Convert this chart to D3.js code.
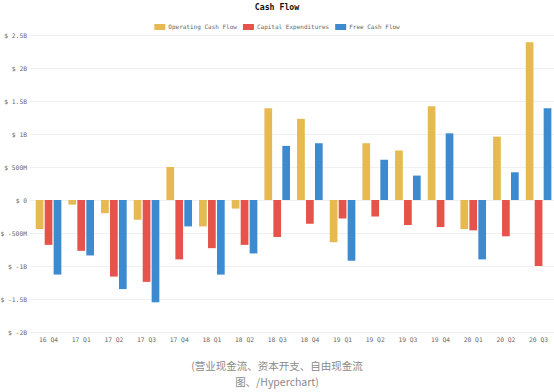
<!DOCTYPE html>
<html>
<head>
<meta charset="utf-8">
<script src="https://cdn.jsdelivr.net/npm/d3@7"></script>
<style>
  html, body { margin: 0; padding: 0; background: #fff; }
  svg { display: block; }
</style>
</head>
<body>
<svg id="chart" width="554" height="392"></svg>
<script>
const categories = ["16 Q4","17 Q1","17 Q2","17 Q3","17 Q4","18 Q1","18 Q2","18 Q3","18 Q4","19 Q1","19 Q2","19 Q3","19 Q4","20 Q1","20 Q2","20 Q3"];
const seriesNames = ["Operating Cash Flow","Capital Expenditures","Free Cash Flow"];
const seriesColors = ["#e6b951","#e5534b","#3c8bd1"];
// values in billions of dollars
const operatingCashFlow = [-0.44,-0.07,-0.20,-0.30,0.50,-0.40,-0.13,1.39,1.23,-0.64,0.86,0.75,1.42,-0.44,0.96,2.39];
const capitalExpenditures = [-0.68,-0.77,-1.16,-1.24,-0.90,-0.73,-0.68,-0.56,-0.36,-0.28,-0.25,-0.38,-0.41,-0.46,-0.55,-1.00];
const freeCashFlow = [-1.13,-0.84,-1.35,-1.55,-0.40,-1.13,-0.81,0.82,0.86,-0.92,0.61,0.37,1.01,-0.90,0.42,1.39];
const yTicks = [2.5,2,1.5,1,0.5,0,-0.5,-1,-1.5,-2];
const yTickLabels = ["$ 2.5B","$ 2B","$ 1.5B","$ 1B","$ 500M","$ 0","$ -500M","$ -1B","$ -1.5B","$ -2B"];
const titleText = "Cash Flow";
const captionLines = ["(营业现金流、资本开支、自由现金流","图、/Hyperchart)"];

const seriesValues = [operatingCashFlow, capitalExpenditures, freeCashFlow];
const data = categories.map((c, i) => ({
  cat: c,
  vals: seriesNames.map((s, k) => ({ key: s, value: seriesValues[k][i], color: seriesColors[k] }))
}));

const svg = d3.select("#chart");
const mono = "'DejaVu Sans Mono', 'Liberation Mono', monospace";

const x0 = d3.scaleBand().domain(categories).range([32.2, 554.9]).paddingInner(0.216).paddingOuter(0.108);
const x1 = d3.scaleBand().domain(seriesNames).range([0, x0.bandwidth()]).paddingInner(0.14);
const y = d3.scaleLinear().domain([-2, 2.5]).range([332, 35]);

// grid
const yAxis = d3.axisLeft(y).tickValues(yTicks).tickSize(-(554 - 30)).tickFormat((d, i) => yTickLabels[i]);
const gy = svg.append("g").attr("transform", "translate(30,0)").call(yAxis);
gy.select(".domain").remove();
gy.selectAll(".tick line").attr("stroke", "#f0f0f0").attr("stroke-width", 1);
gy.selectAll(".tick text").attr("x", -3).attr("fill", "#666").style("font-family", mono).style("font-size", "6.3px");

// x axis labels
const xAxis = d3.axisBottom(x0).tickSize(0).tickPadding(0);
const gx = svg.append("g").attr("transform", "translate(0,338)").call(xAxis);
gx.select(".domain").remove();
gx.selectAll(".tick text").attr("fill", "#666").style("font-family", mono).style("font-size", "6.3px");

// bars
const groups = svg.append("g").selectAll("g").data(data).join("g")
  .attr("transform", d => `translate(${x0(d.cat)},0)`);
groups.selectAll("rect").data(d => d.vals).join("rect")
  .attr("x", d => x1(d.key))
  .attr("width", x1.bandwidth())
  .attr("y", d => y(Math.max(0, d.value)))
  .attr("height", d => Math.abs(y(d.value) - y(0)))
  .attr("fill", d => d.color);

// title
svg.append("text").attr("x", 277).attr("y", 10).attr("text-anchor", "middle")
  .style("font-family", mono).style("font-weight", "bold").style("font-size", "8.2px").attr("fill", "#111")
  .text(titleText);

// legend
const legend = svg.append("g");
const charW = 6 * 0.602;
let lx = 154.3;
seriesNames.forEach((s, k) => {
  legend.append("rect").attr("x", lx).attr("y", 24).attr("width", 11).attr("height", 6).attr("fill", seriesColors[k]);
  legend.append("text").attr("x", lx + 14).attr("y", 27).attr("dy", "0.35em")
    .style("font-family", mono).style("font-size", "6px").attr("fill", "#666").text(s);
  lx += 14 + s.length * charW + 6;
});

// caption
captionLines.forEach((t, i) => {
  svg.append("text").attr("x", 277).attr("y", 366 + i * 16).attr("dy", "0.35em").attr("text-anchor", "middle")
    .style("font-family", "'Noto Sans CJK SC', sans-serif").style("font-size", "10.5px").attr("fill", "#8a8a8a")
    .text(t);
});
</script>
</body>
</html>
